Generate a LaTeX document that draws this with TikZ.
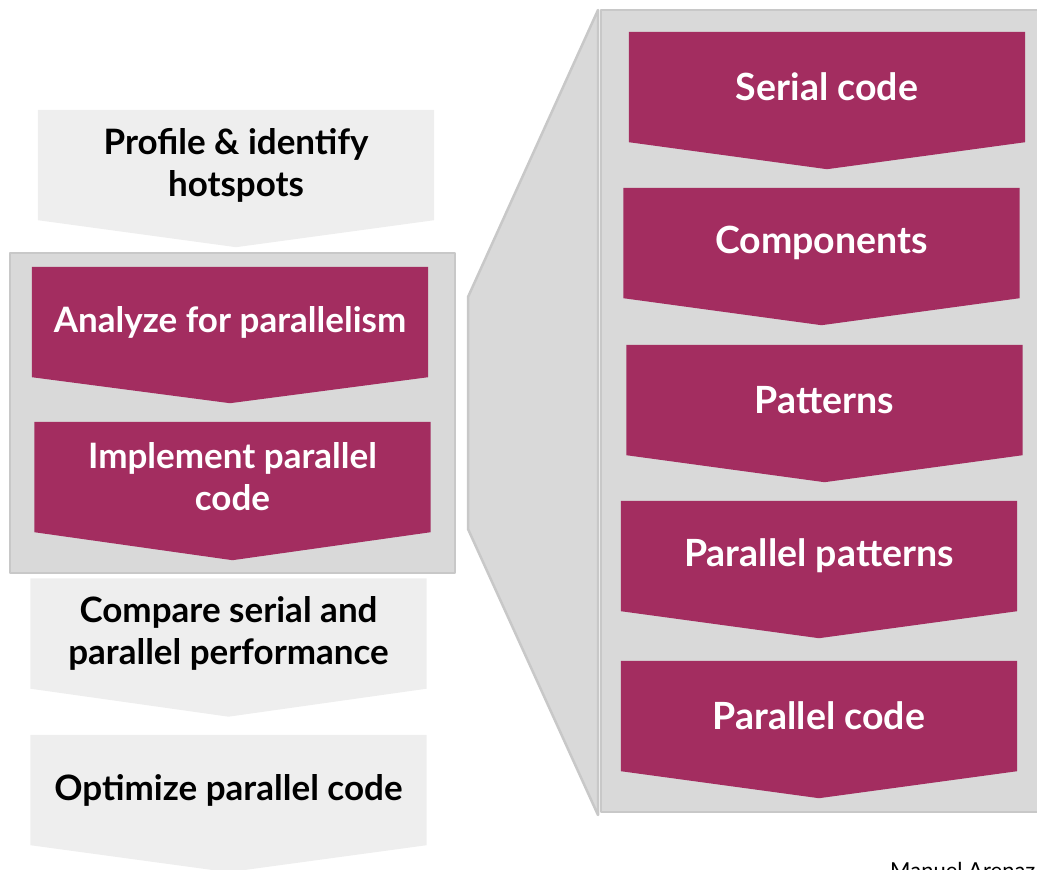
\documentclass[tikz,border=0pt]{standalone}
\usepackage{fontspec}
\setmainfont{Lato}
\usetikzlibrary{calc}
\definecolor{plum}{HTML}{A32D60}
\definecolor{paper}{HTML}{EEEEEE}
\definecolor{panel}{HTML}{D9D9D9}
\definecolor{rim}{HTML}{C8C8C8}
\pgfdeclarelayer{bg}
\pgfsetlayers{bg,main}
% filled pentagon behind a step node: rectangle plus a shallow point below
\newcommand\chevfill[3]{%
  \begin{pgfonlayer}{bg}
    \fill[#2] (#1.north west) -- (#1.north east) -- (#1.south east)
      -- ($(#1.south)+(0,#3)$) -- (#1.south west) -- cycle;
  \end{pgfonlayer}}
\begin{document}
\begin{tikzpicture}[x=1pt,y=-1pt,
  stepbox/.style={rectangle, inner sep=0pt, minimum width=396pt,
    minimum height=110pt, align=center,
    font=\fontsize{35}{42}\selectfont\bfseries},
  plumstep/.style={stepbox, text=white},
  bigstep/.style={plumstep, font=\fontsize{37.5}{45}\selectfont\bfseries},
  paperstep/.style={stepbox, text=black},
  frame/.style={fill=panel, draw=rim, line width=2.5pt, line join=round}]
\useasboundingbox (0,0) rectangle (1037,870);

% containers: left group, zoom wedge and the detail panel
\begin{pgfonlayer}{bg}
  \draw[frame] (10,253) rectangle (455,573);
  \draw[frame] (468,297) -- (598,10) -- (598,815) -- (468,529) -- cycle;
  \draw[frame] (601,10) rectangle (1050,812);
\end{pgfonlayer}

% left column of steps
\node[paperstep] (profile) at (236,165) {Profile \& identify\\hotspots};
\chevfill{profile}{paper}{27}
\node[plumstep] (analyze) at (230,322) {Analyze for parallelism};
\chevfill{analyze}{plum}{26}
\node[plumstep] (implement) at (232.5,477) {Implement parallel\\code};
\chevfill{implement}{plum}{28}
\node[paperstep] (compare) at (228.5,633.5) {Compare serial and\\parallel performance};
\chevfill{compare}{paper}{28}
\node[paperstep] (optimize) at (228.5,790) {Optimize parallel code};
\chevfill{optimize}{paper}{27}

% detail column
\node[bigstep] (serial) at (827,87) {Serial code};
\chevfill{serial}{plum}{27}
\node[bigstep] (components) at (821.5,243) {Components};
\chevfill{components}{plum}{27}
\node[bigstep] (patterns) at (824.5,400) {Patterns};
\chevfill{patterns}{plum}{27}
\node[bigstep] (ppatterns) at (819,556) {Parallel patterns};
\chevfill{ppatterns}{plum}{27}
\node[bigstep] (pcode) at (819,716) {Parallel code};
\chevfill{pcode}{plum}{27}

% author credit along the lower edge
\node[anchor=base west, inner sep=0pt, font=\fontsize{22}{26}\selectfont]
  (author) at (890,878) {Manuel Arenaz};
\end{tikzpicture}
\end{document}
